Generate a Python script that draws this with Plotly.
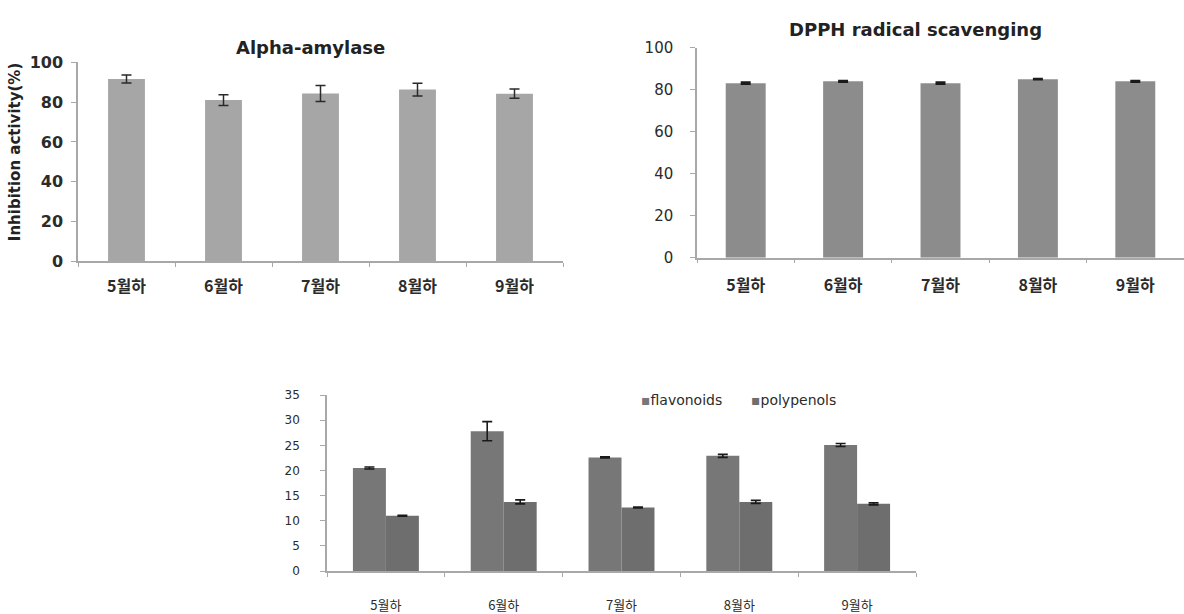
import plotly.graph_objects as go

# Harvest periods (late May .. late September)
months = ["5월하", "6월하", "7월하", "8월하", "9월하"]

# Alpha-amylase inhibition activity (%)
amylase = [91.6, 81.0, 84.3, 86.3, 84.2]
amylase_err = [2.0, 2.7, 4.0, 3.2, 2.3]

# DPPH radical scavenging (%)
dpph = [83.1, 84.0, 83.1, 85.0, 84.0]
dpph_err = [0.4, 0.3, 0.4, 0.2, 0.3]

# Total flavonoid and polyphenol contents
flavonoids = [20.5, 27.8, 22.6, 22.9, 25.05]
flavonoids_err = [0.2, 1.9, 0.1, 0.3, 0.3]
polypenols = [11.0, 13.75, 12.65, 13.75, 13.36]
polypenols_err = [0.1, 0.4, 0.1, 0.3, 0.2]

LATIN = "DejaVu Sans"
KOREAN = "Noto Sans CJK KR"
AXIS_GREY = "#a8a8a8"
TEXT = "#2b2b2b"
FLAV_GREY = "#777777"
POLY_GREY = "#6e6e6e"

W, H = 1184, 614


def xdom(x0, x1):
    return [x0 / W, x1 / W]


def ydom(top, bottom):
    return [(H - bottom) / H, (H - top) / H]


def px(x):
    return x / W


def py(y):
    return (H - y) / H


fig = go.Figure()

fig.add_trace(go.Bar(
    x=months, y=amylase, xaxis="x", yaxis="y",
    marker=dict(color="#a6a6a6", line=dict(width=0)),
    width=0.38, showlegend=False,
    error_y=dict(type="data", array=amylase_err, color="#2a2a2a",
                 thickness=1.5, width=5),
))

fig.add_trace(go.Bar(
    x=months, y=dpph, xaxis="x2", yaxis="y2",
    marker=dict(color="#8c8c8c", line=dict(width=0)),
    width=0.41, showlegend=False,
    error_y=dict(type="data", array=dpph_err, color="#1a1a1a",
                 thickness=2, width=5),
))

fig.add_trace(go.Bar(
    x=months, y=flavonoids, xaxis="x3", yaxis="y3", name="flavonoids",
    marker=dict(color=FLAV_GREY, line=dict(width=0)), showlegend=False,
    offsetgroup="f",
    error_y=dict(type="data", array=flavonoids_err, color="#1a1a1a",
                 thickness=1.6, width=5),
))
fig.add_trace(go.Bar(
    x=months, y=polypenols, xaxis="x3", yaxis="y3", name="polypenols",
    marker=dict(color=POLY_GREY, line=dict(width=0)), showlegend=False,
    offsetgroup="p",
    error_y=dict(type="data", array=polypenols_err, color="#1a1a1a",
                 thickness=1.6, width=5),
))

common_x = dict(
    type="category", showline=True, linecolor=AXIS_GREY, linewidth=1.5,
    ticks="outside", tickson="boundaries", ticklen=4, tickcolor=AXIS_GREY,
    showgrid=False, zeroline=False, fixedrange=True,
)
common_y = dict(
    showline=True, linecolor=AXIS_GREY, linewidth=1.5,
    ticks="outside", ticklen=5, tickcolor=AXIS_GREY,
    showgrid=False, zeroline=False, fixedrange=True,
)

fig.update_layout(
    width=W, height=H,
    margin=dict(l=0, r=0, t=0, b=0),
    paper_bgcolor="white", plot_bgcolor="white",
    bargap=0.44, barmode="group", bargroupgap=0,
    showlegend=False,
    xaxis=dict(common_x, domain=xdom(78, 563), anchor="y",
               tickfont=dict(family=KOREAN, size=16, color=TEXT, weight="bold"),
               ticklabelstandoff=10),
    yaxis=dict(common_y, domain=ydom(55, 261), anchor="x", range=[0, 100],
               dtick=20,
               tickfont=dict(family=LATIN, size=16, color=TEXT, weight="bold"),
               ticklabelstandoff=5),
    xaxis2=dict(common_x, domain=xdom(697, 1184), anchor="y2",
                tickfont=dict(family=KOREAN, size=16, color=TEXT, weight="bold"),
                ticklabelstandoff=12),
    yaxis2=dict(common_y, domain=ydom(40, 257), anchor="x2", range=[0, 100],
                dtick=20,
                tickfont=dict(family=LATIN, size=15, color=TEXT),
                ticklabelstandoff=14),
    xaxis3=dict(common_x, domain=xdom(327, 916), anchor="y3",
                tickfont=dict(family=KOREAN, size=13, color=TEXT),
                ticklabelstandoff=22),
    yaxis3=dict(common_y, domain=ydom(399, 581), anchor="x3", range=[0, 35],
                dtick=5,
                tickfont=dict(family=LATIN, size=12, color=TEXT),
                ticklabelstandoff=18),
    annotations=[
        dict(text="Alpha-amylase", x=px(310), y=py(40),
             xref="paper", yref="paper", showarrow=False,
             xanchor="center", yanchor="middle",
             font=dict(family=LATIN, size=18, color="#222222", weight="bold")),
        dict(text="DPPH radical scavenging", x=px(915), y=py(21),
             xref="paper", yref="paper", showarrow=False,
             xanchor="center", yanchor="middle",
             font=dict(family=LATIN, size=18, color="#222222", weight="bold")),
        dict(text="Inhibition activity(%)", x=px(15), y=py(148),
             xref="paper", yref="paper", showarrow=False, textangle=-90,
             xanchor="center", yanchor="middle",
             font=dict(family=LATIN, size=15, color="#222222", weight="bold")),
        # series key for the flavonoid / polyphenol chart
        dict(text=f'<span style="color:{FLAV_GREY}">▪</span>flavonoids',
             x=px(639), y=py(404), xref="paper", yref="paper",
             showarrow=False, xanchor="left", yanchor="middle",
             font=dict(family=LATIN, size=14, color=TEXT)),
        dict(text=f'<span style="color:{POLY_GREY}">▪</span>polypenols',
             x=px(749), y=py(404), xref="paper", yref="paper",
             showarrow=False, xanchor="left", yanchor="middle",
             font=dict(family=LATIN, size=14, color=TEXT)),
    ],
)

fig.write_html("out.html")
